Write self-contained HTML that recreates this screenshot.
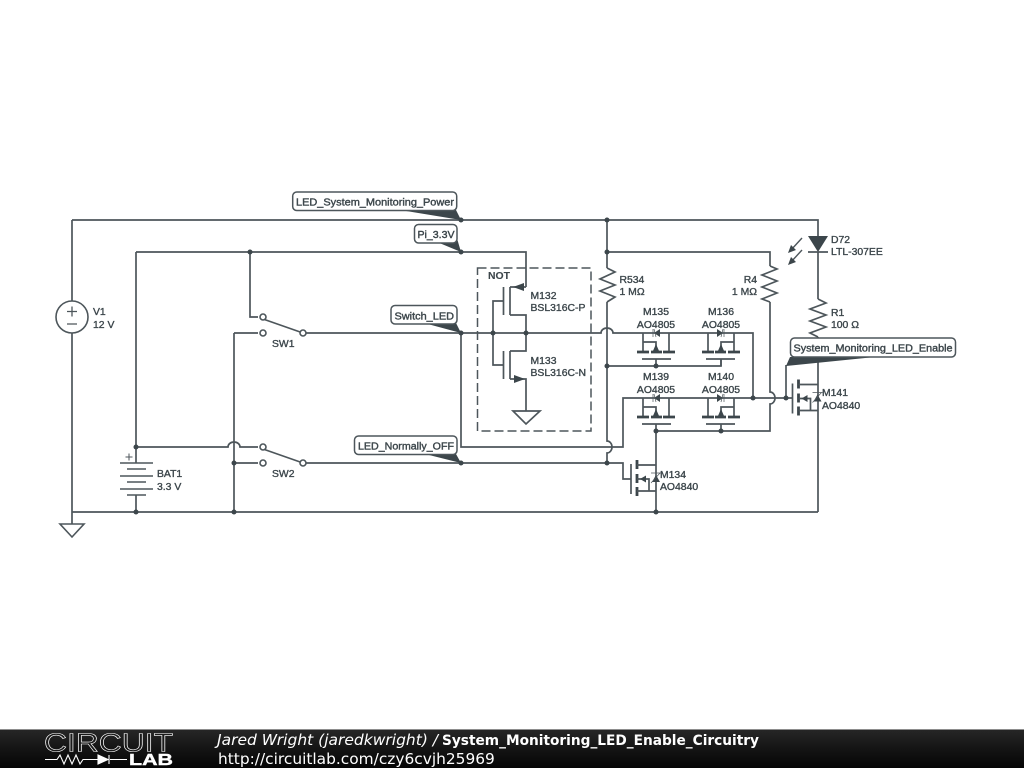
<!DOCTYPE html>
<html><head><meta charset="utf-8"><title>System_Monitoring_LED_Enable_Circuitry</title>
<style>
html,body{margin:0;padding:0;background:#fff;width:1024px;height:768px;overflow:hidden}
svg{display:block}
.w{fill:none;stroke:#4d565b;stroke-width:1.7}
.h{fill:none;stroke:#4d565b;stroke-width:.7}
.b{fill:none;stroke:#3c464b;stroke-width:2.800}
.d{fill:#3c464b;stroke:none}
.c{fill:#fff;stroke:#4d565b;stroke-width:1.6}
.t{font-family:"Liberation Sans",sans-serif;font-size:10.4px;fill:#3c464b;stroke:#3c464b;stroke-width:.35}
.l{font-family:"Liberation Sans",sans-serif;font-size:10.5px;fill:#3c464b;stroke:#3c464b;stroke-width:.4}
.box{fill:#fff;stroke:#4d565b;stroke-width:1.5}
</style></head><body>
<svg width="1024" height="768" viewBox="0 0 1024 768" xmlns="http://www.w3.org/2000/svg">
<defs>
<linearGradient id="g" x1="0" y1="0" x2="0" y2="1"><stop offset="0" stop-color="#262626"/><stop offset=".5" stop-color="#141414"/><stop offset="1" stop-color="#050505"/></linearGradient>
<g id="pm">
<path class="w" d="M643 333V352M643 342H656V352M669 333V352M642 359H671M656 359V366"/>
<path class="b" d="M637 352h12M651 352h11M663 352h12"/>
<path class="d" d="M656 344l-3.500 8h7zM654 333l6-4v8z"/>
<path class="h" d="M653 329v8M656 337l-2-8"/>
</g>
<g id="nm">
<path class="b" d="M637 460v9M637 474v9M637 487v9"/>
<path class="w" d="M631 464V494M637 465H656M637 491H656M637 479H649V491"/>
<path class="d" d="M640 479l6-3.500v7zM656 475l-4 7h8z"/>
<path class="h" d="M651 473H661M651 483L660 473"/>
</g>
</defs>

<!-- main wiring -->
<path class="w" d="M72 220H818V236M818 252V299M818 337V512M72 220V301M72 333V512H818M72 512V524"/>
<path class="w" d="M136 252H526V287M136 252V463M136 495V512"/>
<path class="w" d="M607 220V268M607 302V441a5 6 0 0 1 0 12V463"/>
<path class="w" d="M607 252H770V266M770 302V392a5 6 0 0 1 0 12V431H656M656 431V512"/>
<path class="w" d="M250 252V317H258M303 333H601a6 5 0 0 1 12 0H753V398"/>
<path class="w" d="M234 333H258M234 333V512"/>
<path class="w" d="M136 447H228a6 5 0 0 1 12 0H258M234 463H258"/>
<path class="w" d="M303 463H623V479H631"/>
<path class="w" d="M461 333V447H623V398H792"/>
<path class="w" d="M786 365V398"/>
<path class="w" d="M607 366H721V359"/>

<!-- ground V1 -->
<path class="c" d="M60 524H84L72 537Z" style="fill:none"/>
<circle class="c" cx="72" cy="317" r="16"/>
<path class="w" d="M67 311.500h10M72 306.500v10M67 324h10" style="stroke-width:1.3"/>

<!-- battery -->
<path class="w" d="M120 463h33M127 469h19M120 476h33M127 482h19M120 489h33M127 495h19" style="stroke-width:1.5"/>
<path class="w" d="M125.500 457h7M129 453.500v7" style="stroke-width:1"/>

<!-- switches -->
<path class="w" d="M263 319L303 333M263 449L303 463"/>
<circle class="c" cx="263" cy="317" r="3"/><circle class="c" cx="263" cy="333" r="3"/><circle class="c" cx="303" cy="333" r="3"/>
<circle class="c" cx="263" cy="447" r="3"/><circle class="c" cx="263" cy="463" r="3"/><circle class="c" cx="303" cy="463" r="3"/>

<!-- NOT box -->
<rect x="477.500" y="268" width="113.500" height="163" fill="none" stroke="#4d565b" stroke-width="1.500" stroke-dasharray="9 4"/>
<path class="w" d="M493 333V301H503M493 333V365H503M503.500 287V315M503.500 351V379M510 287V315M510 351V379M510 287H526M510 315H526V351H510M510 379H526V411"/>
<path class="d" d="M513 287l11-4v8zM525 379l-11-4v8z"/>
<path class="w" d="M513 411H540L526 424Z"/>

<!-- resistors -->
<path class="w" d="M607 268L615 272L600 279L615 285L600 291L615 297L607 302"/>
<path class="w" d="M770 266L777 269L762 275L777 281L762 287L777 293L762 299L770 302"/>
<path class="w" d="M818 299L826 303L810 309L826 315L810 321L826 327L810 333L818 337"/>

<!-- MOSFET quad -->
<use href="#pm"/>
<use href="#pm" transform="translate(1377 0) scale(-1 1)"/>
<use href="#pm" transform="translate(0 65)"/>
<use href="#pm" transform="translate(1377 65) scale(-1 1)"/>
<use href="#nm"/>
<use href="#nm" transform="translate(161.500 -80.500)"/>

<!-- LED -->
<path class="d" d="M808 236H828L818 252Z"/>
<path class="w" d="M808 252H828"/>
<path class="w" d="M802 238L791 250M802 250L791 262" style="stroke-width:1.4"/>
<path class="d" d="M788 253l3-8 5 5zM788 265l3-8 5 5z"/>

<!-- nodes -->
<g class="d">
<circle cx="250" cy="252" r="2.500"/><circle cx="461" cy="252" r="2.500"/><circle cx="607" cy="252" r="2.500"/>
<circle cx="461" cy="220" r="2.500"/><circle cx="607" cy="220" r="2.500"/>
<circle cx="461" cy="333" r="2.500"/><circle cx="493" cy="333" r="2.500"/><circle cx="526" cy="333" r="2.500"/>
<circle cx="607" cy="366" r="2.500"/><circle cx="656" cy="366" r="2.500"/>
<circle cx="753" cy="398" r="2.500"/><circle cx="786" cy="398" r="2.500"/>
<circle cx="656" cy="431" r="2.500"/><circle cx="721" cy="431" r="2.500"/>
<circle cx="136" cy="447" r="2.500"/><circle cx="234" cy="463" r="2.500"/>
<circle cx="461" cy="463" r="2.500"/><circle cx="607" cy="463" r="2.500"/>
<circle cx="136" cy="512" r="2.500"/><circle cx="234" cy="512" r="2.500"/><circle cx="656" cy="512" r="2.500"/>
</g>

<!-- flags -->
<path class="d" d="M400 210L456 210L461 220ZM437 242L456 235L461 252ZM424 323L456 323L461 333ZM425 454L456 454L461 463ZM786 366L790 357H875Z"/>
<rect class="box" x="292.700" y="192" width="164" height="18.500" rx="4"/>
<rect class="box" x="414.500" y="224.500" width="42.500" height="18.500" rx="4"/>
<rect class="box" x="391" y="305.500" width="66" height="18.500" rx="4"/>
<rect class="box" x="354.500" y="436" width="102.500" height="18.500" rx="4"/>
<rect class="box" x="790.500" y="338" width="165" height="19" rx="4"/>
<text class="l" x="296" y="205.500" textLength="158" lengthAdjust="spacingAndGlyphs">LED_System_Monitoring_Power</text>
<text class="l" x="417.500" y="238" textLength="37" lengthAdjust="spacingAndGlyphs">Pi_3.3V</text>
<text class="l" x="394.500" y="319.500" textLength="59.500" lengthAdjust="spacingAndGlyphs">Switch_LED</text>
<text class="l" x="358" y="449.500" textLength="96" lengthAdjust="spacingAndGlyphs">LED_Normally_OFF</text>
<text class="l" x="793.500" y="351.500" textLength="159" lengthAdjust="spacingAndGlyphs">System_Monitoring_LED_Enable</text>

<!-- labels -->
<g class="t">
<text x="93" y="315">V1</text><text x="93" y="328">12 V</text>
<text x="157" y="477">BAT1</text><text x="157" y="490">3.3 V</text>
<text x="272" y="347">SW1</text><text x="272" y="477">SW2</text>
<text x="488" y="279" style="font-weight:bold;stroke-width:.1">NOT</text>
<text x="530.500" y="299">M132</text><text x="530.500" y="311">BSL316C-P</text>
<text x="530.500" y="364">M133</text><text x="530.500" y="376">BSL316C-N</text>
<text x="619.500" y="283">R534</text><text x="619.500" y="295">1 MΩ</text>
<text x="757" y="283" text-anchor="end">R4</text><text x="757" y="295" text-anchor="end">1 MΩ</text>
<text x="656" y="315" text-anchor="middle">M135</text><text x="656" y="328" text-anchor="middle">AO4805</text>
<text x="721" y="315" text-anchor="middle">M136</text><text x="721" y="328" text-anchor="middle">AO4805</text>
<text x="656" y="380" text-anchor="middle">M139</text><text x="656" y="393" text-anchor="middle">AO4805</text>
<text x="721" y="380" text-anchor="middle">M140</text><text x="721" y="393" text-anchor="middle">AO4805</text>
<text x="831" y="243">D72</text><text x="831" y="255">LTL-307EE</text>
<text x="831" y="316">R1</text><text x="831" y="328">100 Ω</text>
<text x="822" y="396">M141</text><text x="822" y="409">AO4840</text>
<text x="660" y="478">M134</text><text x="660" y="490">AO4840</text>
</g>

<!-- footer -->
<rect x="0" y="730" width="1024" height="38" fill="url(#g)"/>
<rect x="0" y="729" width="1024" height="1" fill="#8d8d8d"/>
<text x="44" y="751.500" textLength="129" lengthAdjust="spacingAndGlyphs" style="font-family:'Liberation Sans',sans-serif;font-size:26px;fill:#1a1a1a;stroke:#fff;stroke-width:.6">CIRCUIT</text>
<path d="M45 759.500H57L60 755L64 764L68 755L72 764L76 755L80 764L83 759.500H98M110 759.500H127" fill="none" stroke="#fff" stroke-width="1.100"/>
<path d="M98 755V764L108 759.500ZM109 755V764" fill="#fff" stroke="#fff" stroke-width="1.100"/>
<text x="129" y="765" textLength="44" lengthAdjust="spacingAndGlyphs" style="font-family:'Liberation Sans',sans-serif;font-size:15.500px;font-weight:bold;fill:#fff;stroke:#fff;stroke-width:.4">LAB</text>
<text x="217" y="745" style="font-family:'DejaVu Sans',sans-serif;font-size:15.500px;font-style:italic;fill:#fff">Jared Wright (jaredkwright) /</text>
<text x="442" y="745" textLength="317" lengthAdjust="spacingAndGlyphs" style="font-family:'DejaVu Sans',sans-serif;font-size:14px;font-weight:bold;fill:#fff">System_Monitoring_LED_Enable_Circuitry</text>
<text x="218" y="764" style="font-family:'DejaVu Sans',sans-serif;font-size:15.400px;fill:#fff">http://circuitlab.com/czy6cvjh25969</text>
</svg>
</body></html>
